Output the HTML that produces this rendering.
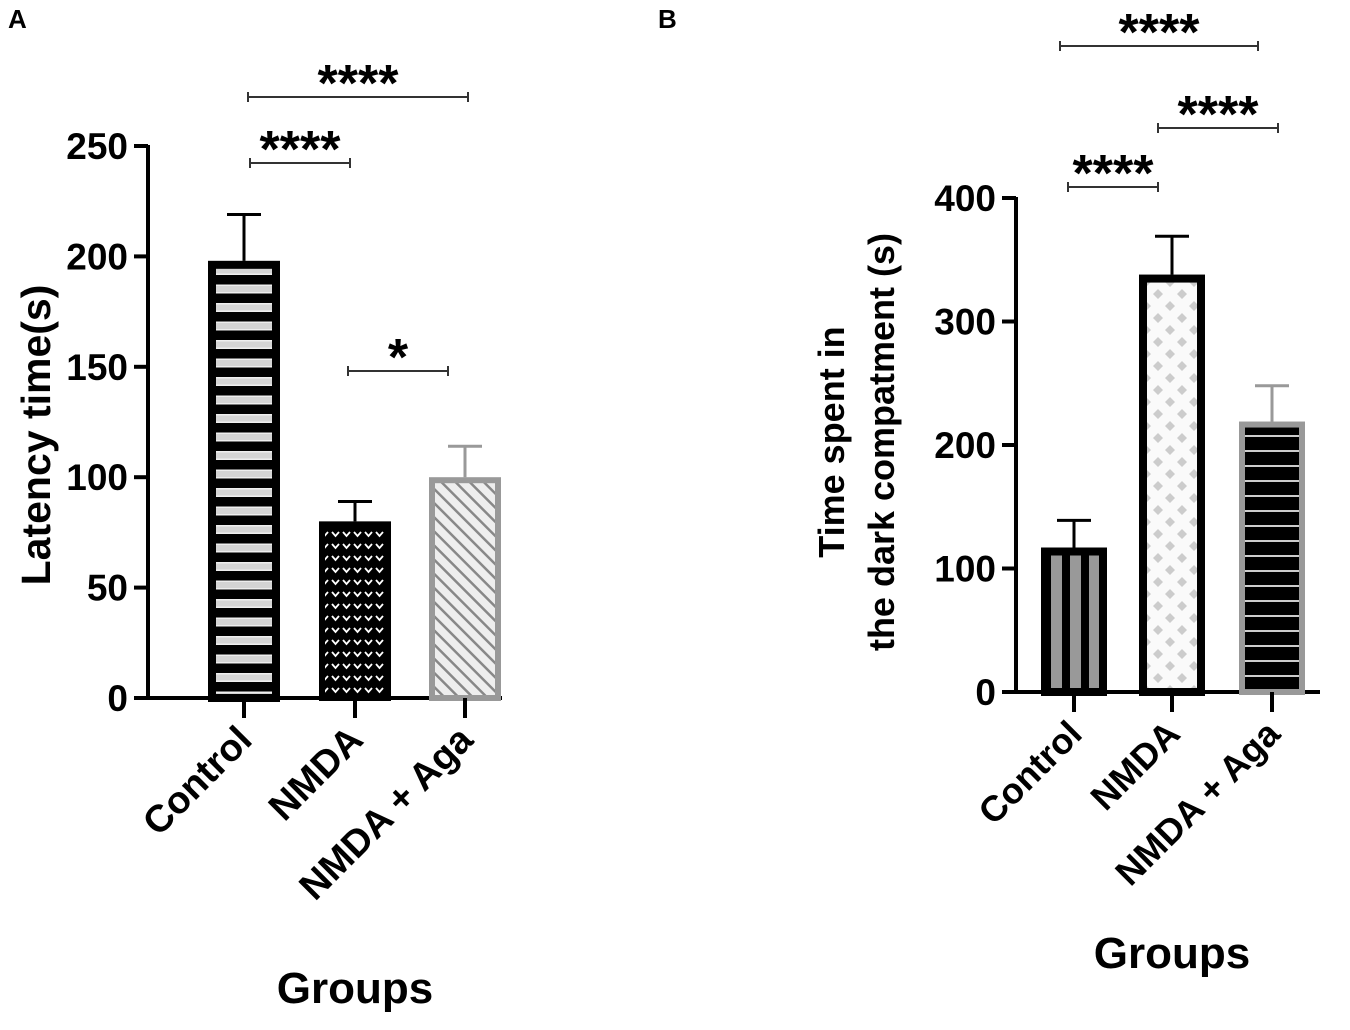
<!DOCTYPE html>
<html><head><meta charset="utf-8">
<style>
html,body{margin:0;padding:0;background:#fff;}
svg{display:block;font-family:"Liberation Sans",Arial,sans-serif;font-weight:bold;}
</style></head>
<body>
<svg id="chart" width="1350" height="1030" viewBox="0 0 1350 1030">
<defs>
  <pattern id="pCtrlA" width="20" height="18.5" patternUnits="userSpaceOnUse" y="261">
    <rect width="20" height="18.5" fill="#000"/><rect x="0" y="5" width="20" height="9" fill="#eee"/><rect x="0" y="6.5" width="20" height="6" fill="#d4d4d4"/>
  </pattern>
  <pattern id="pNmdaA" width="11" height="12" patternUnits="userSpaceOnUse">
    <rect width="11" height="12" fill="#000"/><path d="M2 4 L5.5 8 L9 4" stroke="#fff" stroke-width="1.8" fill="none"/>
  </pattern>
  <pattern id="pAgaA" width="10" height="10" patternUnits="userSpaceOnUse" patternTransform="rotate(-45)">
    <rect width="10" height="10" fill="#eee"/><rect x="0" width="2.5" height="10" fill="#888"/>
  </pattern>
  <pattern id="pCtrlB" width="19" height="10" patternUnits="userSpaceOnUse" x="1048">
    <rect width="19" height="10" fill="#000"/><rect x="3" width="11" height="10" fill="#999"/>
  </pattern>
  <pattern id="pNmdaB" width="24" height="24" patternUnits="userSpaceOnUse">
    <rect width="24" height="24" fill="#fafafa"/><path d="M6 1 L11 6 L6 11 L1 6Z M18 13 L23 18 L18 23 L13 18Z" fill="#ccc"/>
  </pattern>
  <pattern id="pAgaB" width="20" height="15" patternUnits="userSpaceOnUse">
    <rect width="20" height="15" fill="#000"/><rect y="0" width="20" height="2" fill="#ccc"/>
  </pattern>
</defs>
<text x="8" y="28" font-size="26">A</text>
<text x="658" y="28" font-size="26">B</text>
<g id="gA"></g>
<g id="gB"></g>
</svg>
<script>
const catsA = ["Control","NMDA","NMDA + Aga"];
const valsA = [198, 80, 100];
const errA = [219, 89, 114];
const ticksA = [0,50,100,150,200,250];
const catsB = ["Control","NMDA","NMDA + Aga"];
const valsB = [117, 338, 219];
const errB = [139, 369, 248];
const ticksB = [0,100,200,300,400];

const NS="http://www.w3.org/2000/svg";
function mk(p,tag,attrs,txt){const e=document.createElementNS(NS,tag);for(const k in attrs)e.setAttribute(k,attrs[k]);if(txt!==undefined)e.textContent=txt;p.appendChild(e);return e;}

function draw(g,cfg){
  const y=v=>cfg.y0-(v-0)*(cfg.y0-cfg.yTop)/cfg.max;
  const ya=mk(g,'line',{x1:cfg.ax,y1:y(cfg.max)-1,x2:cfg.ax,y2:cfg.y0+2,stroke:'#000','stroke-width':4});
  
  
  cfg.ticks.forEach(t=>{
    const l=mk(g,'line',{x1:cfg.ax-14,y1:y(t),x2:cfg.ax,y2:y(t),stroke:'#000','stroke-width':4});
    
    
    const tx=mk(g,'text',{x:cfg.ax-20,y:y(t)+13,'font-size':37,'text-anchor':'end'},t);
    
    
  });
  const xa=mk(g,'line',{x1:cfg.ax-2,y1:cfg.y0,x2:cfg.axEnd,y2:cfg.y0,stroke:'#000','stroke-width':4});
  
  
  cfg.cats.forEach((c,i)=>{
    const cx=cfg.cx[i];
    const v=cfg.vals[i];
    const sw=cfg.sw[i];
    const r=mk(g,'rect',{x:cx-cfg.bw/2+sw/2,y:y(v)+sw/2,width:cfg.bw-sw,height:cfg.y0-y(v)-sw/2,fill:cfg.fills[i],stroke:cfg.strokes[i],'stroke-width':sw});
    
    
    const e=mk(g,'path',{d:`M${cx} ${y(v)} V${y(cfg.err[i])} M${cx-17} ${y(cfg.err[i])} H${cx+17}`,stroke:cfg.strokes[i],'stroke-width':3,fill:'none'});
    
    
    const tk=mk(g,'line',{x1:cx,y1:cfg.y0,x2:cx,y2:cfg.y0+20,stroke:'#000','stroke-width':4});
    
    
    const lb=mk(g,'text',{x:cx+10,y:cfg.y0+44,'font-size':cfg.lfs,'text-anchor':'end',transform:`rotate(-45 ${cx+10} ${cfg.y0+44})`},c);
    
    
  });
  cfg.sig.forEach(s=>{
    const b=mk(g,'path',{d:`M${s[0]} ${s[2]} H${s[1]} M${s[0]} ${s[2]-5} V${s[2]+5} M${s[1]} ${s[2]-5} V${s[2]+5}`,stroke:'#333','stroke-width':2,fill:'none'});
    
    
    const t=mk(g,'text',{x:(s[0]+s[1])/2,y:s[2]+4,'font-size':52,'text-anchor':'middle'},s[3]);
    
    
  });
  const gx=mk(g,'text',{x:cfg.gx,y:cfg.gy,'font-size':44,'text-anchor':'middle'},'Groups');
  
  
}

const gA=document.getElementById('gA');
draw(gA,{y0:698,yTop:146,max:250,ax:148,axEnd:502,ticks:ticksA,cats:catsA,vals:valsA,err:errA,
  cx:[244,355,465],bw:72,sw:[8,6,6],fills:['url(#pCtrlA)','url(#pNmdaA)','url(#pAgaA)'],strokes:['#000','#000','#999'],lfs:38,
  sig:[[248,468,97,'****'],[250,350,163,'****'],[348,448,371,'*']],gx:355,gy:1003});
const ytA=mk(gA,'text',{x:50,y:435,'font-size':41,'text-anchor':'middle',transform:'rotate(-90 50 435)'},'Latency time(s)');



const gB=document.getElementById('gB');
draw(gB,{y0:692,yTop:198,max:400,ax:1016,axEnd:1320,ticks:ticksB,cats:catsB,vals:valsB,err:errB,
  cx:[1074,1172,1272],bw:66,sw:[8,8,6],fills:['url(#pCtrlB)','url(#pNmdaB)','url(#pAgaB)'],strokes:['#000','#000','#999'],lfs:36,
  sig:[[1060,1258,46,'****'],[1158,1278,128,'****'],[1068,1158,187,'****']],gx:1172,gy:968});
const ytB1=mk(gB,'text',{x:844,y:442,'font-size':36,'text-anchor':'middle',transform:'rotate(-90 844 442)'},'Time spent in');


const ytB2=mk(gB,'text',{x:894,y:442,'font-size':36,'text-anchor':'middle',transform:'rotate(-90 894 442)'},'the dark compatment (s)');


</script>
</body></html>
